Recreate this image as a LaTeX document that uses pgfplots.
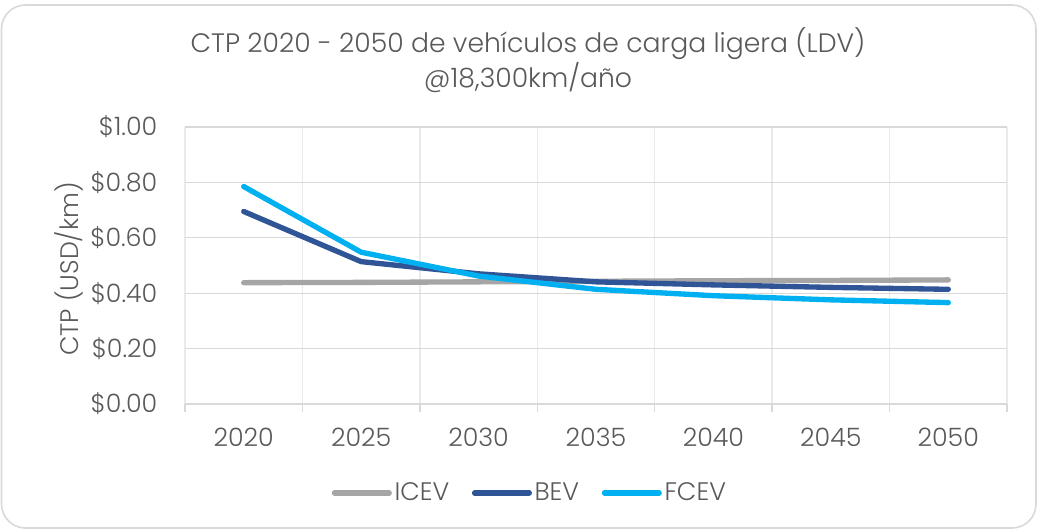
\documentclass[border=0pt]{standalone}
\usepackage{fontspec}
\setmainfont{Poppins}[UprightFont=* Light]
\usepackage{pgfplots}
\pgfplotsset{compat=1.18}
\definecolor{txt}{HTML}{595959}
\definecolor{gridc}{HTML}{D9D9D9}
\definecolor{vgrid}{HTML}{EAEAEA}
\definecolor{icev}{HTML}{A5A5A5}
\definecolor{bev}{HTML}{2F5597}
\definecolor{fcev}{HTML}{00B0F0}
\begin{document}
\begin{tikzpicture}[x=0.75pt,y=0.75pt]
\useasboundingbox (0,0) rectangle (1043,529);
\draw[gridc, line width=1.2pt, rounded corners=18pt] (1.5,1) rectangle (1036,524);
\node[txt, font=\fontsize{20}{24}\selectfont, anchor=base] at (528,476) {CTP 2020 - 2050 de vehículos de carga ligera (LDV)};
\node[txt, font=\fontsize{20}{24}\selectfont, anchor=base] at (528,441) {@18,300km/año};
\node[txt, font=\fontsize{19}{23}\selectfont, rotate=90] at (69,260) {CTP (USD/km)};
\begin{axis}[
  at={(138.75pt,93.75pt)}, anchor=south west,
  scale only axis, width=616.5pt, height=207.75pt,
  xmin=-0.5, xmax=6.5, ymin=0, ymax=1,
  axis x line*=bottom, axis y line*=left,
  y axis line style={draw=none},
  x axis line style={gridc, line width=1pt},
  xtick={0,...,6},
  xticklabels={2020,2025,2030,2035,2040,2045,2050},
  minor xtick={-0.5,0.5,...,6.5},
  major x tick style={draw=none},
  minor x tick style={gridc, line width=1pt},
  minor tick length=6pt,
  tick align=outside,
  xminorgrids=true,
  minor x grid style={vgrid, line width=1pt},
  ytick={0,0.2,0.4,0.6,0.8,1},
  yticklabels={\$0.00,\$0.20,\$0.40,\$0.60,\$0.80,\$1.00},
  major y tick style={draw=none},
  ymajorgrids=true,
  major y grid style={gridc, line width=1pt},
  ticklabel style={txt, font=\fontsize{19}{23}\selectfont},
  xticklabel style={yshift=-10pt},
  yticklabel style={xshift=-13pt},
  legend columns=3,
  legend style={at={(0.42,-0.321)}, anchor=center, draw=none, fill=none,
    font=\fontsize{19}{23}\selectfont, text=txt,
    /tikz/every even column/.append style={column sep=15pt}},
  legend image code/.code={\draw[#1, line width=4pt, line cap=round] (0pt,0pt) -- (41pt,0pt);},
  every axis plot/.append style={line width=4pt, line cap=round, line join=round},
  clip=false,
]
\addplot[icev] coordinates {(0,0.438) (1,0.439) (2,0.441) (3,0.443) (4,0.445) (5,0.446) (6,0.448)};
\addlegendentry{ICEV}
\addplot[bev] coordinates {(0,0.695) (1,0.514) (2,0.470) (3,0.441) (4,0.430) (5,0.421) (6,0.414)};
\addlegendentry{BEV}
\addplot[fcev] coordinates {(0,0.785) (1,0.548) (2,0.462) (3,0.414) (4,0.391) (5,0.376) (6,0.366)};
\addlegendentry{FCEV}
\end{axis}
\end{tikzpicture}
\end{document}
